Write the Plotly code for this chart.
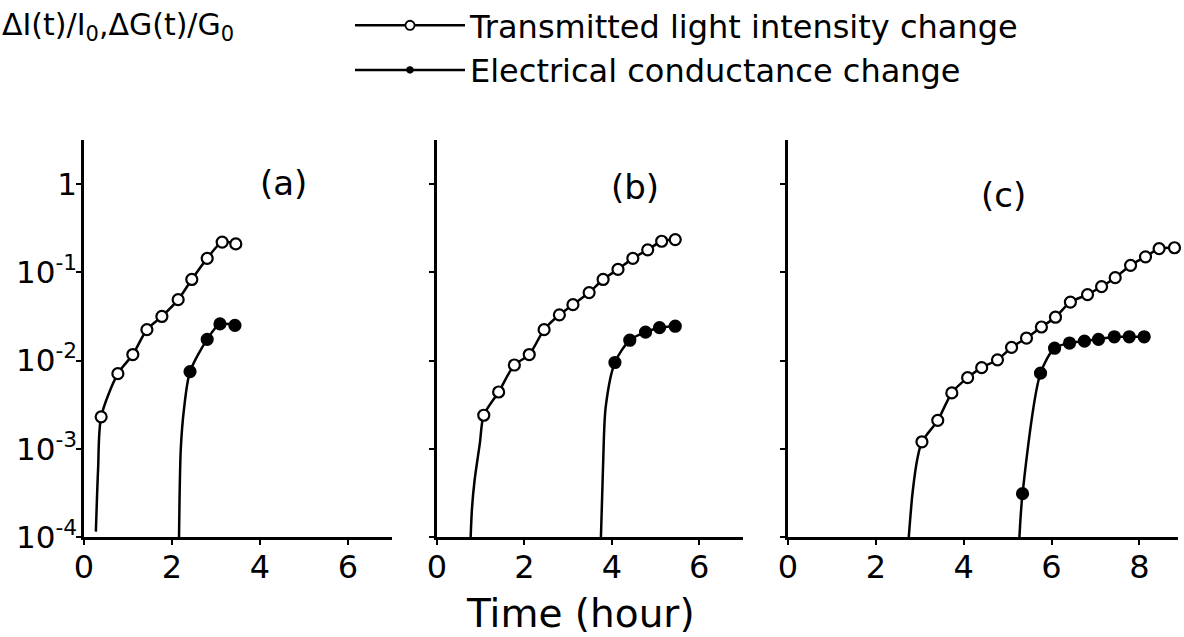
import plotly.graph_objects as go

# ---------------- data ----------------
# Panel (a)
a_open_t = [0.39, 0.77, 1.11, 1.43, 1.77, 2.14, 2.45, 2.80, 3.14, 3.45]
a_open_v = [2.3e-3, 7.1e-3, 0.0117, 0.0224, 0.0316, 0.049, 0.083, 0.144, 0.22, 0.21]
a_open_fit_t = [0.27, 0.32]          # fitted curve leading to first point
a_open_fit_v = [1.15e-4, 5.8e-4]
a_fill_t = [2.41, 2.80, 3.09, 3.43]
a_fill_v = [7.5e-3, 0.0174, 0.026, 0.025]
a_fill_fit_t = [2.16, 2.20, 2.27]
a_fill_fit_v = [1.0e-4, 1.0e-3, 2.75e-3]

# Panel (b)
b_open_t = [1.07, 1.41, 1.77, 2.11, 2.45, 2.80, 3.11, 3.48, 3.80, 4.14, 4.48, 4.82, 5.14, 5.45]
b_open_v = [2.4e-3, 4.4e-3, 8.9e-3, 0.0117, 0.0224, 0.033, 0.043, 0.059, 0.083, 0.108,
            0.144, 0.18, 0.225, 0.235]
b_open_fit_t = [0.77, 0.80, 0.86, 0.98]
b_open_fit_v = [1.0e-4, 2.1e-4, 4.4e-4, 1.15e-3]
b_fill_t = [4.07, 4.41, 4.77, 5.09, 5.45]
b_fill_v = [9.5e-3, 0.017, 0.021, 0.0236, 0.0245]
b_fill_fit_t = [3.75, 3.80, 3.86]
b_fill_fit_v = [1.0e-4, 6.7e-4, 3.0e-3]

# Panel (c)
c_open_t = [3.05, 3.41, 3.73, 4.09, 4.41, 4.77, 5.09, 5.43, 5.77, 6.09, 6.43, 6.82,
            7.14, 7.45, 7.80, 8.14, 8.45, 8.80]
c_open_v = [1.2e-3, 2.1e-3, 4.3e-3, 6.4e-3, 8.3e-3, 0.0102, 0.0141, 0.018, 0.024, 0.031,
            0.046, 0.056, 0.069, 0.087, 0.12, 0.15, 0.186, 0.19]
c_open_fit_t = [2.75, 2.84, 2.95]
c_open_fit_v = [1.0e-4, 3.3e-4, 7.9e-4]
c_fill_t = [5.34, 5.75, 6.07, 6.41, 6.75, 7.07, 7.43, 7.77, 8.11]
c_fill_v = [3.1e-4, 7.2e-3, 0.0138, 0.0158, 0.0166, 0.0174, 0.0186, 0.0186, 0.0186]
c_fill_fit_t = [5.27]
c_fill_fit_v = [1.0e-4]

panel_labels = ["(a)", "(b)", "(c)"]
x_ranges = [[0, 7], [0, 7], [0, 8.88]]
x_tickvals = [[0, 2, 4, 6], [0, 2, 4, 6], [0, 2, 4, 6, 8]]
y_tickvals = [1, 0.1, 0.01, 0.001, 0.0001]
y_ticktext = ["1", "10<sup>-1</sup>", "10<sup>-2</sup>", "10<sup>-3</sup>", "10<sup>-4</sup>"]
series_names = ["Transmitted light intensity change", "Electrical conductance change"]
x_title = "Time (hour)"
y_title = "ΔI(t)/I<sub>0</sub>,ΔG(t)/G<sub>0</sub>"

FONT = "DejaVu Sans"
W, H = 1184, 637

def px(x):
    return x / W

def py(y):
    return 1 - y / H

fig = go.Figure()

panels = [
    (a_open_fit_t, a_open_fit_v, a_open_t, a_open_v, a_fill_fit_t, a_fill_fit_v, a_fill_t, a_fill_v),
    (b_open_fit_t, b_open_fit_v, b_open_t, b_open_v, b_fill_fit_t, b_fill_fit_v, b_fill_t, b_fill_v),
    (c_open_fit_t, c_open_fit_v, c_open_t, c_open_v, c_fill_fit_t, c_fill_fit_v, c_fill_t, c_fill_v),
]

def add_series(fit_t, fit_v, t, v, filled, idx, name, showlegend):
    xs = list(fit_t) + list(t)
    ys = list(fit_v) + list(v)
    sizes = [0] * len(fit_t) + [11] * len(t)
    lw = [0] * len(fit_t) + [2.2] * len(t)
    fig.add_trace(go.Scatter(
        x=xs, y=ys, mode="lines+markers",
        line=dict(color="black", width=2.5, shape="spline", smoothing=0.8),
        marker=dict(symbol="circle", size=sizes, opacity=1,
                    color="black" if filled else "white",
                    line=dict(color="black", width=lw)),
        name=name, showlegend=showlegend, legendrank=idx,
        xaxis="x" if idx == 0 else f"x{idx+1}",
        yaxis="y" if idx == 0 else f"y{idx+1}",
        hoverinfo="skip", cliponaxis=False,
    ))

for i, p in enumerate(panels):
    add_series(p[0], p[1], p[2], p[3], False, i, series_names[0], i == 0)
    add_series(p[4], p[5], p[6], p[7], True, i, series_names[1], i == 0)

# axis frames in screen pixels
x_px = [(84, 392), (437, 743), (788, 1178)]
y_px = (140, 537)
ydom = [py(y_px[1]), py(y_px[0])]

layout = dict(
    width=W, height=H,
    margin=dict(l=0, r=0, t=0, b=0, autoexpand=False),
    paper_bgcolor="white", plot_bgcolor="white",
    font=dict(family=FONT, color="black"),
    showlegend=True,
    legend=dict(x=px(350), y=py(-2), xanchor="left", yanchor="top",
                font=dict(size=32, family=FONT), itemwidth=110,
                tracegroupgap=0, bgcolor="rgba(0,0,0,0)"),
)
for i in range(3):
    xk = "xaxis" if i == 0 else f"xaxis{i+1}"
    yk = "yaxis" if i == 0 else f"yaxis{i+1}"
    xa = "x" if i == 0 else f"x{i+1}"
    ya = "y" if i == 0 else f"y{i+1}"
    layout[xk] = dict(
        domain=[px(x_px[i][0]), px(x_px[i][1])], anchor=ya,
        range=x_ranges[i], tickvals=x_tickvals[i],
        showline=True, linecolor="black", linewidth=2.5,
        ticks="outside", ticklen=5, tickwidth=2, tickcolor="black",
        showgrid=False, zeroline=False, automargin=False,
        tickfont=dict(size=32, family=FONT), ticklabelstandoff=-5,
    )
    layout[yk] = dict(
        domain=ydom, anchor=xa, type="log", range=[-4, 0.5],
        tickvals=y_tickvals, ticktext=y_ticktext,
        showticklabels=(i == 0),
        showline=True, linecolor="black", linewidth=2.5,
        ticks="outside", ticklen=5, tickwidth=2, tickcolor="black",
        showgrid=False, zeroline=False, automargin=False,
        tickfont=dict(size=31, family=FONT), ticklabelstandoff=-7,
    )

fig.update_layout(**layout)

label_pos = [(283, 183), (635, 187), (1003, 195)]
for lab, (lx, ly) in zip(panel_labels, label_pos):
    fig.add_annotation(text=lab, x=px(lx), y=py(ly), xref="paper", yref="paper",
                       xanchor="center", yanchor="middle",
                       showarrow=False, font=dict(size=34, family=FONT))

fig.add_annotation(text=x_title, x=px(580), y=py(613), xref="paper", yref="paper",
                   xanchor="center", yanchor="middle",
                   showarrow=False, font=dict(size=39, family=FONT))

fig.add_annotation(text=y_title, x=px(0), y=py(27),
                   xref="paper", yref="paper", xanchor="left", yanchor="middle",
                   showarrow=False, font=dict(size=30, family=FONT))

fig.write_html("out.html", config={"displayModeBar": False},
               post_script="document.body.style.margin='0px';")
